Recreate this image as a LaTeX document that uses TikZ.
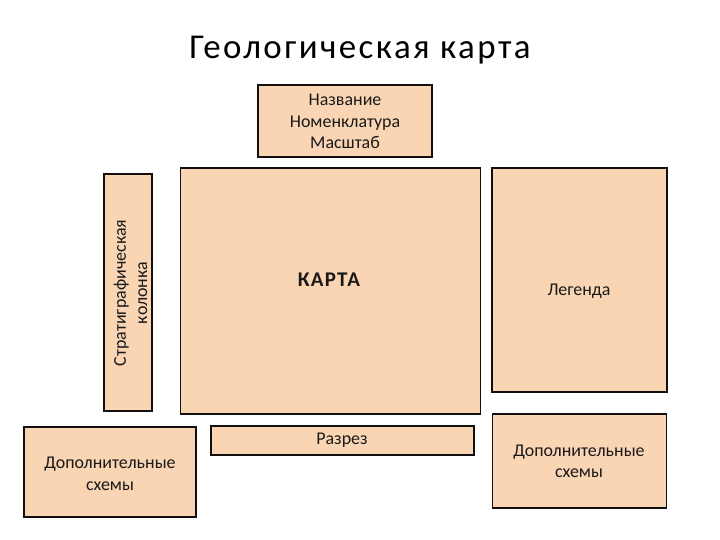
\documentclass[tikz,border=0pt]{standalone}
\usepackage{fontspec}
\setmainfont{Carlito}
\definecolor{peach}{RGB}{250,213,180}
\definecolor{edge}{RGB}{20,15,15}
\begin{document}
\begin{tikzpicture}[x=1bp,y=-1bp,
  panel/.style={draw=edge,fill=peach,line width=1.1bp,inner sep=0pt,outer sep=0pt},
  txt/.style={font=\fontsize{18}{21.5}\selectfont,align=center,inner sep=0pt,text=black!90}]
\useasboundingbox[fill=white] (0,0) rectangle (720,540);
\node[font=\fontsize{35}{38}\selectfont\addfontfeatures{LetterSpace=7},inner sep=0pt] (title) at (360,50) {Геологическая карта};
% boxes
\node[panel,minimum width=174bp,minimum height=72bp] (top) at (345,121) {};
\node[panel,minimum width=48bp,minimum height=237bp] (strat) at (128,292.5) {};
\node[panel,minimum width=300bp,minimum height=246bp] (map) at (330.5,291) {};
\node[panel,minimum width=175bp,minimum height=224bp] (legend) at (579.5,280) {};
\node[panel,minimum width=263bp,minimum height=29bp] (razrez) at (342.5,440.5) {};
\node[panel,minimum width=172bp,minimum height=90bp] (extraL) at (110,472) {};
\node[panel,minimum width=174bp,minimum height=94bp] (extraR) at (579.5,461) {};
% texts
\node[txt] (topt) at (345,121.5) {Название\\Номенклатура\\Масштаб};
\node[txt,rotate=90] (stratt) at (130.5,293) {Стратиграфическая\\колонка};
\node[txt,font=\fontsize{21}{24}\selectfont\bfseries\addfontfeatures{LetterSpace=6}] (mapt) at (329,280) {КАРТА};
\node[txt] (legendt) at (579,291) {Легенда};
\node[txt] (razrezt) at (342,440) {Разрез};
\node[txt] (extraLt) at (110,474) {Дополнительные\\схемы};
\node[txt] (extraRt) at (579,461.5) {Дополнительные\\схемы};
\end{tikzpicture}
\end{document}
